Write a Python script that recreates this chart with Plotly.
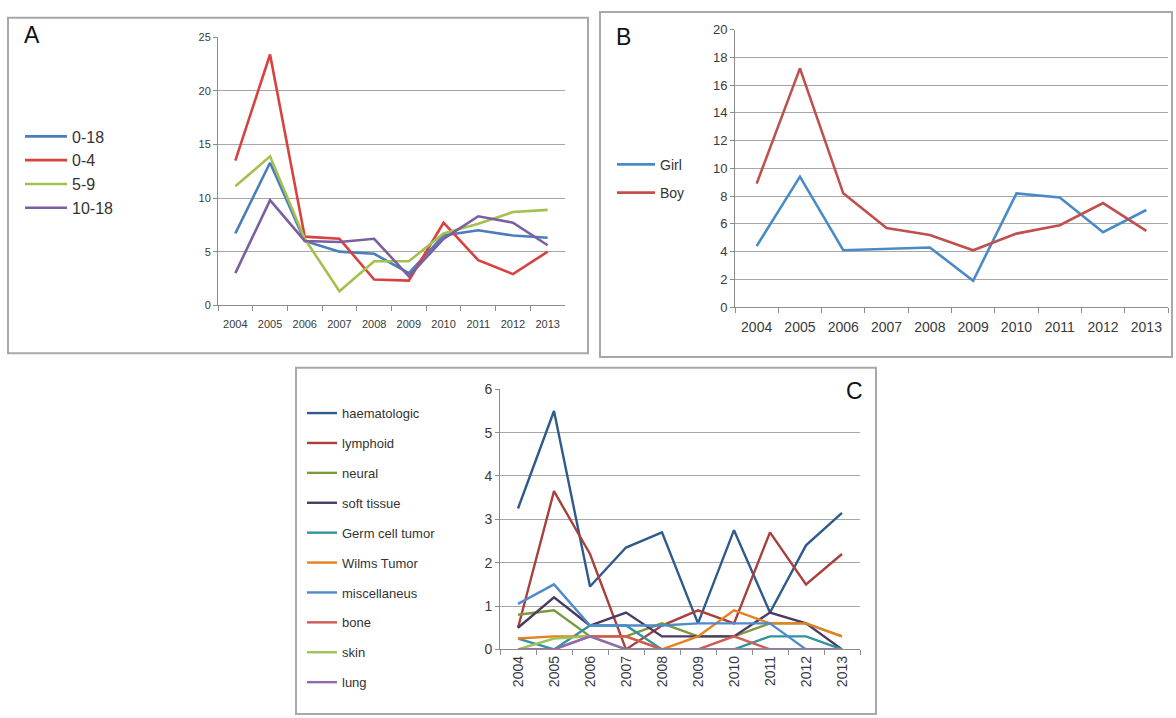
import plotly.graph_objects as go

W, H = 1176, 718

years = ["2004", "2005", "2006", "2007", "2008", "2009", "2010", "2011", "2012", "2013"]

# Panel A: age groups
a_names = ["0-18", "0-4", "5-9", "10-18"]
a_0_18 = [6.7, 13.3, 6.0, 5.0, 4.8, 3.0, 6.5, 7.0, 6.5, 6.3]
a_0_4 = [13.5, 23.4, 6.4, 6.2, 2.4, 2.3, 7.7, 4.2, 2.9, 5.0]
a_5_9 = [11.1, 13.9, 6.2, 1.3, 4.1, 4.1, 6.7, 7.6, 8.7, 8.9]
a_10_18 = [3.0, 9.8, 6.0, 5.9, 6.2, 2.7, 6.2, 8.3, 7.7, 5.6]
a_colors = ["#4A7EBB", "#D9413E", "#A4C14F", "#7B5FA0"]

# Panel B: sex
b_names = ["Girl", "Boy"]
b_girl = [4.4, 9.4, 4.1, 4.2, 4.3, 1.9, 8.2, 7.9, 5.4, 7.0]
b_boy = [8.9, 17.2, 8.2, 5.7, 5.2, 4.1, 5.3, 5.9, 7.5, 5.5]
b_colors = ["#4A8AC6", "#C0504D"]

# Panel C: tumour types
c_names = ["haematologic", "lymphoid", "neural", "soft tissue", "Germ cell tumor",
           "Wilms Tumor", "miscellaneus", "bone", "skin", "lung"]
c_haematologic = [3.25, 5.5, 1.45, 2.35, 2.7, 0.6, 2.75, 0.85, 2.4, 3.15]
c_lymphoid = [0.5, 3.65, 2.2, 0.0, 0.55, 0.9, 0.6, 2.7, 1.5, 2.2]
c_neural = [0.8, 0.9, 0.3, 0.3, 0.6, 0.3, 0.3, 0.6, 0.6, 0.3]
c_soft_tissue = [0.5, 1.2, 0.55, 0.85, 0.3, 0.3, 0.3, 0.85, 0.6, 0.0]
c_germ_cell = [0.25, 0.0, 0.55, 0.55, 0.0, 0.0, 0.0, 0.3, 0.3, 0.0]
c_wilms = [0.25, 0.3, 0.3, 0.3, 0.0, 0.3, 0.9, 0.6, 0.6, 0.3]
c_misc = [1.05, 1.5, 0.55, 0.55, 0.55, 0.6, 0.6, 0.6, 0.0, 0.0]
c_bone = [0.0, 0.0, 0.3, 0.3, 0.0, 0.0, 0.3, 0.0, 0.0, 0.0]
c_skin = [0.0, 0.25, 0.3, 0.0, 0.0, 0.0, 0.0, 0.0, 0.0, 0.0]
c_lung = [0.0, 0.0, 0.3, 0.0, 0.0, 0.0, 0.0, 0.0, 0.0, 0.0]
c_colors = ["#2F5A8C", "#A8403D", "#7A9A3A", "#4B3A63", "#31939E",
            "#E5811F", "#4F8ACB", "#D05A55", "#9CC45A", "#8E6AB5"]

fig = go.Figure()

for name, vals, col in zip(a_names, [a_0_18, a_0_4, a_5_9, a_10_18], a_colors):
    fig.add_trace(go.Scatter(x=years, y=vals, mode="lines", name=name,
                             line=dict(color=col, width=2.6), xaxis="x", yaxis="y",
                             legend="legend", legendgroup="a" + name))

for name, vals, col in zip(b_names, [b_girl, b_boy], b_colors):
    fig.add_trace(go.Scatter(x=years, y=vals, mode="lines", name=name,
                             line=dict(color=col, width=2.6), xaxis="x2", yaxis="y2",
                             legend="legend2", legendgroup="b" + name))

c_series = [c_haematologic, c_lymphoid, c_neural, c_soft_tissue, c_germ_cell,
            c_wilms, c_misc, c_bone, c_skin, c_lung]
for name, vals, col in zip(c_names, c_series, c_colors):
    fig.add_trace(go.Scatter(x=years, y=vals, mode="lines", name=name,
                             line=dict(color=col, width=2.4), xaxis="x3", yaxis="y3",
                             legend="legend3", legendgroup="c" + name))

def px(v):
    return v / W

def py(v):
    return 1 - v / H

grid = "#A6A6A6"
tickc = "#3A3A3A"

def xax(domain, anchor, size, angle=0, standoff=0):
    return dict(domain=domain, anchor=anchor, type="category", range=[-0.5, 9.5],
                showgrid=False, showline=True, linecolor="#8C8C8C", linewidth=1,
                ticks="outside", tickson="boundaries", ticklen=5, tickcolor="#8C8C8C",
                tickangle=angle, ticklabelstandoff=standoff,
                tickfont=dict(family="Liberation Sans", size=size, color=tickc),
                fixedrange=True)

def yax(domain, anchor, rng, dt, size):
    return dict(domain=domain, anchor=anchor, range=rng, dtick=dt,
                showgrid=True, gridcolor=grid, gridwidth=1, zeroline=False,
                showline=True, linecolor="#8C8C8C", linewidth=1,
                ticks="outside", ticklen=4, tickcolor="#8C8C8C",
                tickfont=dict(family="Liberation Sans", size=size, color=tickc),
                fixedrange=True)

fig.update_layout(
    width=W, height=H,
    margin=dict(l=0, r=0, t=0, b=0),
    paper_bgcolor="white", plot_bgcolor="white",
    xaxis=xax([px(218), px(565)], "y", 11, standoff=9),
    yaxis=yax([py(304), py(30)], "x", [0, 25], 5, 11),
    xaxis2=xax([px(735), px(1168)], "y2", 14, standoff=7),
    yaxis2=yax([py(306), py(22)], "x2", [0, 20], 2, 13),
    xaxis3=xax([px(500), px(860)], "y3", 14, -90),
    yaxis3=yax([py(656), py(390)], "x3", [0, 6], 1, 14),
    legend=dict(x=px(20), y=py(114), xanchor="left", yanchor="top",
                bgcolor="rgba(0,0,0,0)", itemwidth=42, tracegroupgap=0,
                font=dict(family="Liberation Sans", size=16, color="#333333")),
    legend2=dict(x=px(612), y=py(144), xanchor="left", yanchor="top",
                 bgcolor="rgba(0,0,0,0)", itemwidth=38, tracegroupgap=7,
                 font=dict(family="Liberation Sans", size=14, color="#333333")),
    legend3=dict(x=px(302), y=py(399), xanchor="left", yanchor="top",
                 bgcolor="rgba(0,0,0,0)", itemwidth=30, tracegroupgap=10,
                 font=dict(family="Liberation Sans", size=13, color="#333333")),
    showlegend=True,
)

# Panel frames
frame = dict(color="#A8A8A8", width=2)
for (x0, y0, x1, y1) in [(8, 10, 588, 353), (600, 4, 1172, 357), (296, 368, 876, 722)]:
    fig.add_shape(type="rect", xref="paper", yref="paper",
                  x0=px(x0), x1=px(x1), y0=py(y1), y1=py(y0), line=frame,
                  fillcolor="rgba(0,0,0,0)", layer="below")

# Panel letters
for txt, x, y in [("A", 22, 28), ("B", 614, 30), ("C", 844, 392)]:
    fig.add_annotation(text=txt, x=px(x), y=py(y), xref="paper", yref="paper",
                       xanchor="left", yanchor="middle", showarrow=False,
                       font=dict(family="Liberation Sans", size=23, color="#111111"))

fig.write_html("out.html", config={"displayModeBar": False},
               post_script="document.body.style.margin='0';document.body.style.overflow='hidden';")
